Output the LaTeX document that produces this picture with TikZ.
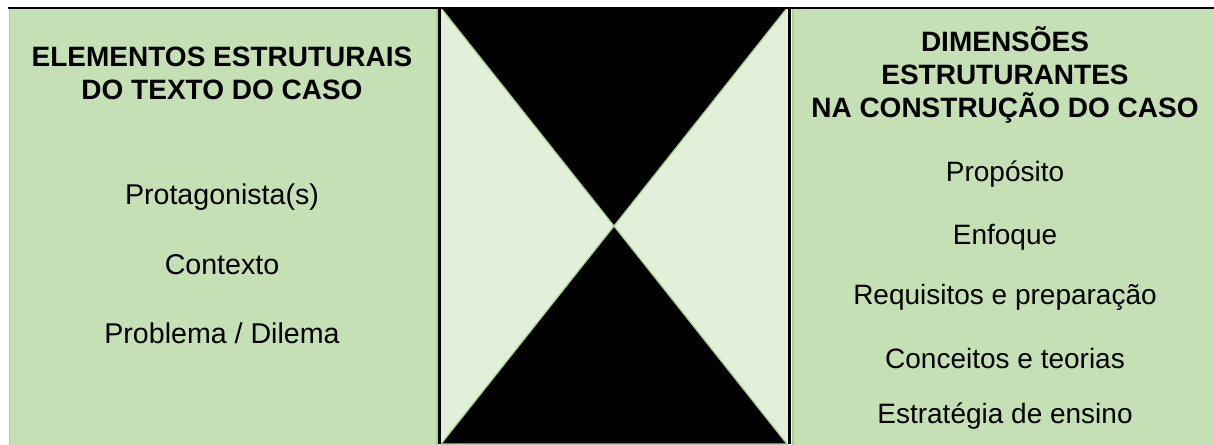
\documentclass[tikz,border=0pt]{standalone}
\usepackage{fontspec}
\setmainfont{Liberation Sans}
\definecolor{panelgreen}{HTML}{C5E0B4}
\definecolor{lightgreen}{HTML}{E2F0D9}
\definecolor{edgegreen}{HTML}{A9D18E}
\begin{document}
\begin{tikzpicture}[x=1pt,y=-1pt,
  panel/.style={fill=panelgreen,draw=edgegreen,line width=1pt},
  title/.style={font=\fontsize{28}{33}\selectfont\bfseries,align=center,anchor=center},
  item/.style={font=\fontsize{28}{33}\selectfont,anchor=center},
  litem/.style={font=\fontsize{28.6}{33}\selectfont,anchor=center},
  bar/.style={line width=3pt,black},
  hour/.style={fill=black,draw=edgegreen,line width=1.2pt,line join=miter}]
\useasboundingbox (0,0) rectangle (1214,444);
% panels
\fill[panel] (9,8) rectangle (437,445);
\fill[lightgreen] (441,8) rectangle (788,445);
\fill[panel] (792.5,8) rectangle (1215,445);
\draw[edgegreen,line width=1pt] (9.5,8) -- (9.5,445);
\draw[edgegreen,line width=1pt] (436.5,8) -- (436.5,445);
\draw[edgegreen,line width=1pt] (793,8) -- (793,445);
% hourglass
\coordinate (c) at (614,226);
\filldraw[hour] (441,8) -- (787,8) -- (c) -- cycle;
\filldraw[hour] (441,444) -- (787,444) -- (c) -- cycle;
% black separators and top line
\draw[bar] (439.5,8) -- (439.5,444);
\draw[bar] (789.5,8) -- (789.5,444);
\draw[line width=2pt,black] (8,8) -- (1214,8);
% left texts
\node[title] (lt) at (222,73) {ELEMENTOS ESTRUTURAIS\\DO TEXTO DO CASO};
\node[litem] (l1) at (222,197) {Protagonista(s)};
\node[litem] (l2) at (222,265) {Contexto};
\node[litem] (l3) at (222,333) {Problema / Dilema};
% right texts
\node[title] (rt) at (1005,75) {DIMENSÕES\\ESTRUTURANTES\\NA CONSTRUÇÃO DO CASO};
\node[item] (r1) at (1005,174) {Propósito};
\node[item] (r2) at (1005,237) {Enfoque};
\node[item] (r3) at (1005,297) {Requisitos e preparação};
\node[item] (r4) at (1005,358) {Conceitos e teorias};
\node[item] (r5) at (1005,416) {Estratégia de ensino};
\end{tikzpicture}
\end{document}
